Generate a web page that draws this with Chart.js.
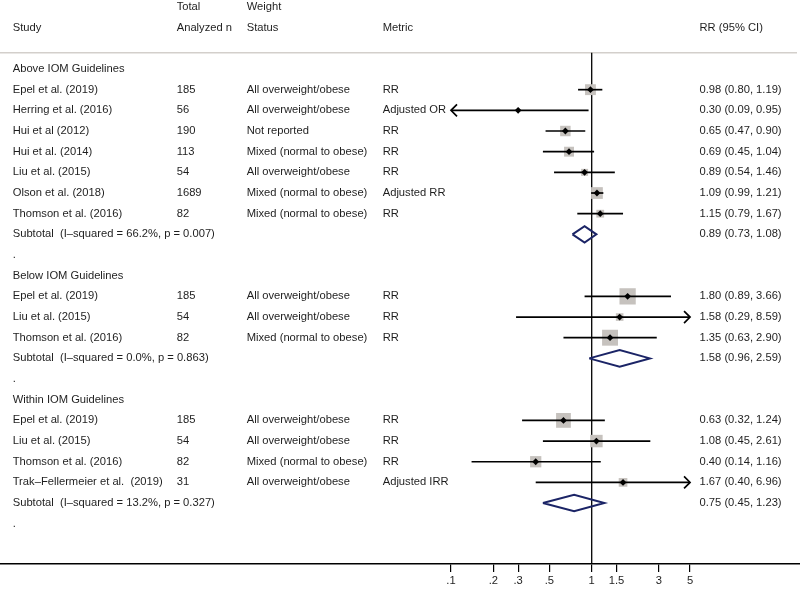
<!DOCTYPE html>
<html>
<head>
<meta charset="utf-8">
<script src="https://cdn.jsdelivr.net/npm/chart.js@4.4.1/dist/chart.umd.min.js"></script>
<style>
  body { margin: 0; background: #fff; }
  #wrap { width: 800px; height: 589px; }
</style>
</head>
<body>
<div id="wrap"><canvas id="forest"></canvas></div>
<script>
// data
var groupNames = ['Above IOM Guidelines', 'Below IOM Guidelines', 'Within IOM Guidelines'];
var studyGroup = [0, 0, 0, 0, 0, 0, 0, 1, 1, 1, 2, 2, 2, 2];
var studies = ['Epel et al. (2019)', 'Herring et al. (2016)', 'Hui et al (2012)', 'Hui et al. (2014)',
  'Liu et al. (2015)', 'Olson et al. (2018)', 'Thomson et al. (2016)',
  'Epel et al. (2019)', 'Liu et al. (2015)', 'Thomson et al. (2016)',
  'Epel et al. (2019)', 'Liu et al. (2015)', 'Thomson et al. (2016)', 'Trak\u2013Fellermeier et al.  (2019)'];
var totalN = ['185', '56', '190', '113', '54', '1689', '82', '185', '54', '82', '185', '54', '82', '31'];
var weightStatus = ['All overweight/obese', 'All overweight/obese', 'Not reported', 'Mixed (normal to obese)',
  'All overweight/obese', 'Mixed (normal to obese)', 'Mixed (normal to obese)',
  'All overweight/obese', 'All overweight/obese', 'Mixed (normal to obese)',
  'All overweight/obese', 'All overweight/obese', 'Mixed (normal to obese)', 'All overweight/obese'];
var metrics = ['RR', 'Adjusted OR', 'RR', 'RR', 'RR', 'Adjusted RR', 'RR',
  'RR', 'RR', 'RR', 'RR', 'RR', 'RR', 'Adjusted IRR'];
var rr = [0.98, 0.30, 0.65, 0.69, 0.89, 1.09, 1.15, 1.80, 1.58, 1.35, 0.63, 1.08, 0.40, 1.67];
var rrLow = [0.80, 0.09, 0.47, 0.45, 0.54, 0.99, 0.79, 0.89, 0.29, 0.63, 0.32, 0.45, 0.14, 0.40];
var rrHigh = [1.19, 0.95, 0.90, 1.04, 1.46, 1.21, 1.67, 3.66, 8.59, 2.90, 1.24, 2.61, 1.16, 6.96];
var weights = [20.5, 1.5, 19, 17, 8.5, 24, 10.5, 46, 10, 44, 38, 27, 22, 13];
var subtotalText = ['Subtotal  (I\u2013squared = 66.2%, p = 0.007)',
  'Subtotal  (I\u2013squared = 0.0%, p = 0.863)',
  'Subtotal  (I\u2013squared = 13.2%, p = 0.327)'];
var subRR = [0.89, 1.58, 0.75];
var subLow = [0.73, 0.96, 0.45];
var subHigh = [1.08, 2.59, 1.23];
var tickValues = [0.1, 0.2, 0.3, 0.5, 1, 1.5, 3, 5];
var tickLabels = ['.1', '.2', '.3', '.5', '1', '1.5', '3', '5'];

// layout
var W = 800, H = 589;
var ROW0 = 69, ROWH = 20.67, AXIS_Y = 564;
var X_ONE = 591.7, DECADE = 140.7;
var FONT = '11.2px "Liberation Sans", Arial, sans-serif';
var TEXT = '#1e1e1e';
var NAVY = '#1b2466';
var BOX = '#c6c2be';
var colX = [12.7, 176.7, 246.7, 382.7, 699.5];

var plotMin = Math.min.apply(null, tickValues);
var plotMax = Math.max.apply(null, tickValues);

// row numbers for every line of the table
var studyRow = [], headRow = [], subRow = [], dotRow = [];
var r = 0;
groupNames.forEach(function(name, g){
    headRow.push(r++);
    studies.forEach(function(s, i){
        if (studyGroup[i] === g) studyRow[i] = r++;
    });
    subRow.push(r++);
    dotRow.push(r++);
});

function fmt(v){ return v.toFixed(2); }

var datasets = [];

// weight boxes
datasets.push({
    data: rr.map(function(v, i){ return {x: v, y: studyRow[i]}; }),
    pointStyle: 'rect',
    pointRadius: weights.map(function(w){ return 2.4 * Math.sqrt(w) / Math.SQRT2; }),
    pointBackgroundColor: BOX,
    pointBorderWidth: 0,
    order: 3
});

// confidence intervals, clipped to the plotted range
rr.forEach(function(v, i){
    datasets.push({
        data: [{x: Math.max(rrLow[i], plotMin), y: studyRow[i]}, {x: Math.min(rrHigh[i], plotMax), y: studyRow[i]}],
        showLine: true,
        borderColor: '#000',
        borderWidth: 1.7,
        pointRadius: 0,
        order: 2
    });
});

// subtotal diamonds
subRR.forEach(function(v, g){
    var y = subRow[g];
    datasets.push({
        data: [{x: subLow[g], y: y}, {x: v, y: y - 0.4}, {x: subHigh[g], y: y},
               {x: v, y: y + 0.4}, {x: subLow[g], y: y}],
        showLine: true,
        borderColor: NAVY,
        borderWidth: 2,
        borderJoinStyle: 'miter',
        pointRadius: 0,
        order: 2
    });
});

// point estimates
datasets.push({
    data: rr.map(function(v, i){ return {x: v, y: studyRow[i]}; }),
    pointStyle: 'rectRot',
    pointRadius: 3.4,
    pointBackgroundColor: '#000',
    pointBorderWidth: 0,
    order: 1
});

var tablePlugin = {
    id: 'tablePlugin',
    beforeDatasetsDraw: function(chart){
        var ctx = chart.ctx, xs = chart.scales.x;
        var sepY = 52.7;
        ctx.save();
        ctx.strokeStyle = '#d3cfcb';
        ctx.lineWidth = 1.6;
        ctx.beginPath();
        ctx.moveTo(0, sepY);
        ctx.lineTo(797, sepY);
        ctx.stroke();
        // line of no effect
        var x1 = xs.getPixelForValue(1);
        ctx.strokeStyle = '#000';
        ctx.lineWidth = 1.3;
        ctx.beginPath();
        ctx.moveTo(x1, sepY);
        ctx.lineTo(x1, chart.chartArea.bottom);
        ctx.stroke();
        ctx.restore();
    },
    afterDatasetsDraw: function(chart){
        var ctx = chart.ctx, xs = chart.scales.x, ys = chart.scales.y;
        ctx.save();
        // arrows where the interval runs off the axis
        ctx.strokeStyle = '#000';
        ctx.lineWidth = 1.7;
        rr.forEach(function(v, i){
            var y = ys.getPixelForValue(studyRow[i]);
            if (rrLow[i] < plotMin){
                var xl = xs.getPixelForValue(plotMin);
                ctx.beginPath();
                ctx.moveTo(xl + 6, y - 6); ctx.lineTo(xl, y); ctx.lineTo(xl + 6, y + 6);
                ctx.stroke();
            }
            if (rrHigh[i] > plotMax){
                var xr = xs.getPixelForValue(plotMax);
                ctx.beginPath();
                ctx.moveTo(xr - 6, y - 6); ctx.lineTo(xr, y); ctx.lineTo(xr - 6, y + 6);
                ctx.stroke();
            }
        });

        ctx.font = FONT;
        ctx.fillStyle = TEXT;
        ctx.textBaseline = 'middle';
        ctx.textAlign = 'left';
        function put(txt, col, row){
            ctx.fillText(txt, colX[col], ys.getPixelForValue(row));
        }
        put('Total', 1, -3);
        put('Weight', 2, -3);
        put('Study', 0, -2);
        put('Analyzed n', 1, -2);
        put('Status', 2, -2);
        put('Metric', 3, -2);
        put('RR (95% CI)', 4, -2);

        groupNames.forEach(function(name, g){
            put(name, 0, headRow[g]);
            put(subtotalText[g], 0, subRow[g]);
            put(fmt(subRR[g]) + ' (' + fmt(subLow[g]) + ', ' + fmt(subHigh[g]) + ')', 4, subRow[g]);
            put('.', 0, dotRow[g]);
        });
        studies.forEach(function(s, i){
            put(s, 0, studyRow[i]);
            put(totalN[i], 1, studyRow[i]);
            put(weightStatus[i], 2, studyRow[i]);
            put(metrics[i], 3, studyRow[i]);
            put(fmt(rr[i]) + ' (' + fmt(rrLow[i]) + ', ' + fmt(rrHigh[i]) + ')', 4, studyRow[i]);
        });
        ctx.restore();
    }
};

var ctx = document.getElementById('forest').getContext('2d');
var chart = new Chart(ctx, {
    type: 'scatter',
    data: { datasets: datasets },
    plugins: [tablePlugin],
    options: {
        responsive: true,
        maintainAspectRatio: false,
        animation: false,
        devicePixelRatio: 1,
        events: [],
        layout: { padding: 0, autoPadding: false },
        plugins: { legend: { display: false }, tooltip: { enabled: false } },
        scales: {
            x: {
                type: 'logarithmic',
                min: Math.pow(10, (0 - X_ONE) / DECADE),
                max: Math.pow(10, (W - X_ONE) / DECADE),
                afterBuildTicks: function(scale){
                    scale.ticks = tickValues.map(function(v){ return {value: v}; });
                },
                afterFit: function(scale){ scale.height = H - AXIS_Y; },
                border: { display: true, color: '#000', width: 1.5 },
                grid: { drawOnChartArea: false, drawTicks: true, tickLength: 8, color: '#000', lineWidth: 1.2 },
                ticks: {
                    autoSkip: false,
                    maxRotation: 0,
                    padding: 2,
                    color: TEXT,
                    font: { family: '"Liberation Sans", Arial, sans-serif', size: 11.2 },
                    callback: function(value, index){ return tickLabels[index]; }
                }
            },
            y: {
                type: 'linear',
                reverse: true,
                display: false,
                min: -ROW0 / ROWH,
                max: (AXIS_Y - ROW0) / ROWH
            }
        }
    }
});
</script>
</body>
</html>
